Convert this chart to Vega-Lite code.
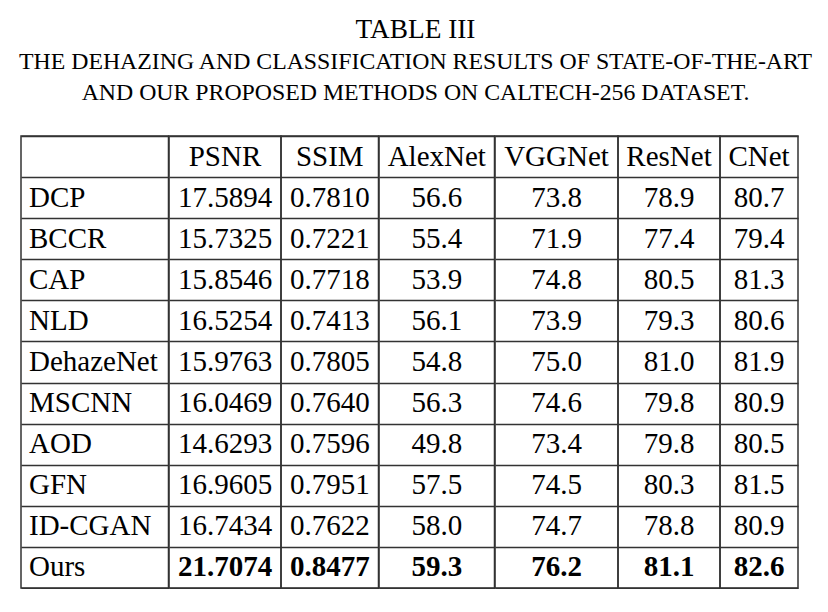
{
  "$schema": "https://vega.github.io/schema/vega-lite/v6.json",
  "background": "white",
  "padding": {"left": 18, "top": 15, "right": 0, "bottom": 0},
  "bounds": "flush",
  "title": {
    "text": "TABLE III",
    "subtitle": ["THE DEHAZING AND CLASSIFICATION RESULTS OF STATE-OF-THE-ART", "AND OUR PROPOSED METHODS ON CALTECH-256 DATASET."],
    "font": "Liberation Serif", "fontSize": 27.3, "fontWeight": "normal", "color": "black",
    "subtitleFont": "Liberation Serif", "subtitleFontSize": 23.8, "subtitleColor": "black",
    "subtitlePadding": 7, "subtitleLineHeight": 31.5,
    "anchor": "middle", "offset": 30, "dx": 6
  },
  "datasets": {
    "results": [
      {"method": "DCP", "PSNR": "17.5894", "SSIM": "0.7810", "AlexNet": "56.6", "VGGNet": "73.8", "ResNet": "78.9", "CNet": "80.7"},
      {"method": "BCCR", "PSNR": "15.7325", "SSIM": "0.7221", "AlexNet": "55.4", "VGGNet": "71.9", "ResNet": "77.4", "CNet": "79.4"},
      {"method": "CAP", "PSNR": "15.8546", "SSIM": "0.7718", "AlexNet": "53.9", "VGGNet": "74.8", "ResNet": "80.5", "CNet": "81.3"},
      {"method": "NLD", "PSNR": "16.5254", "SSIM": "0.7413", "AlexNet": "56.1", "VGGNet": "73.9", "ResNet": "79.3", "CNet": "80.6"},
      {"method": "DehazeNet", "PSNR": "15.9763", "SSIM": "0.7805", "AlexNet": "54.8", "VGGNet": "75.0", "ResNet": "81.0", "CNet": "81.9"},
      {"method": "MSCNN", "PSNR": "16.0469", "SSIM": "0.7640", "AlexNet": "56.3", "VGGNet": "74.6", "ResNet": "79.8", "CNet": "80.9"},
      {"method": "AOD", "PSNR": "14.6293", "SSIM": "0.7596", "AlexNet": "49.8", "VGGNet": "73.4", "ResNet": "79.8", "CNet": "80.5"},
      {"method": "GFN", "PSNR": "16.9605", "SSIM": "0.7951", "AlexNet": "57.5", "VGGNet": "74.5", "ResNet": "80.3", "CNet": "81.5"},
      {"method": "ID-CGAN", "PSNR": "16.7434", "SSIM": "0.7622", "AlexNet": "58.0", "VGGNet": "74.7", "ResNet": "78.8", "CNet": "80.9"},
      {"method": "Ours", "PSNR": "21.7074", "SSIM": "0.8477", "AlexNet": "59.3", "VGGNet": "76.2", "ResNet": "81.1", "CNet": "82.6"}
    ]
  },
  "spacing": 0,
  "hconcat": [
    {
      "width": 147.5, "height": 452,
      "data": {"name": "results"},
      "encoding": {"y": {"field": "method", "type": "nominal", "scale": {"domain": ["header", "DCP", "BCCR", "CAP", "NLD", "DehazeNet", "MSCNN", "AOD", "GFN", "ID-CGAN", "Ours"], "paddingInner": 0, "paddingOuter": 0}, "axis": {"tickBand": "extent", "grid": true, "labels": false, "ticks": false, "domain": false, "title": null}}},
      "layer": [
        {"mark": {"type": "text", "font": "Liberation Serif", "fontSize": 29, "align": "left", "baseline": "middle", "dx": 8, "color": "black"},
         "encoding": {"x": {"value": 0}, "text": {"field": "method"}}}
      ]
    },
    {
      "width": 112, "height": 452,
      "data": {"name": "results"},
      "encoding": {"y": {"field": "method", "type": "nominal", "scale": {"domain": ["header", "DCP", "BCCR", "CAP", "NLD", "DehazeNet", "MSCNN", "AOD", "GFN", "ID-CGAN", "Ours"], "paddingInner": 0, "paddingOuter": 0}, "axis": {"tickBand": "extent", "grid": true, "labels": false, "ticks": false, "domain": false, "title": null}}},
      "layer": [
        {"transform": [{"filter": "datum.method !== 'Ours'"}], "mark": {"type": "text", "font": "Liberation Serif", "fontSize": 29, "baseline": "middle", "color": "black"}, "encoding": {"text": {"field": "PSNR"}}},
        {"transform": [{"filter": "datum.method === 'Ours'"}], "mark": {"type": "text", "font": "Liberation Serif", "fontSize": 29, "fontWeight": "bold", "baseline": "middle", "color": "black"}, "encoding": {"text": {"field": "PSNR"}}},
        {"data": {"values": [{"label": "PSNR"}]}, "mark": {"type": "text", "font": "Liberation Serif", "fontSize": 29, "baseline": "middle", "color": "black"}, "encoding": {"y": {"datum": "header"}, "text": {"field": "label"}}}
      ]
    },
    {
      "width": 97.5, "height": 452,
      "data": {"name": "results"},
      "encoding": {"y": {"field": "method", "type": "nominal", "scale": {"domain": ["header", "DCP", "BCCR", "CAP", "NLD", "DehazeNet", "MSCNN", "AOD", "GFN", "ID-CGAN", "Ours"], "paddingInner": 0, "paddingOuter": 0}, "axis": {"tickBand": "extent", "grid": true, "labels": false, "ticks": false, "domain": false, "title": null}}},
      "layer": [
        {"transform": [{"filter": "datum.method !== 'Ours'"}], "mark": {"type": "text", "font": "Liberation Serif", "fontSize": 29, "baseline": "middle", "color": "black"}, "encoding": {"text": {"field": "SSIM"}}},
        {"transform": [{"filter": "datum.method === 'Ours'"}], "mark": {"type": "text", "font": "Liberation Serif", "fontSize": 29, "fontWeight": "bold", "baseline": "middle", "color": "black"}, "encoding": {"text": {"field": "SSIM"}}},
        {"data": {"values": [{"label": "SSIM"}]}, "mark": {"type": "text", "font": "Liberation Serif", "fontSize": 29, "baseline": "middle", "color": "black"}, "encoding": {"y": {"datum": "header"}, "text": {"field": "label"}}}
      ]
    },
    {
      "width": 115.5, "height": 452,
      "data": {"name": "results"},
      "encoding": {"y": {"field": "method", "type": "nominal", "scale": {"domain": ["header", "DCP", "BCCR", "CAP", "NLD", "DehazeNet", "MSCNN", "AOD", "GFN", "ID-CGAN", "Ours"], "paddingInner": 0, "paddingOuter": 0}, "axis": {"tickBand": "extent", "grid": true, "labels": false, "ticks": false, "domain": false, "title": null}}},
      "layer": [
        {"transform": [{"filter": "datum.method !== 'Ours'"}], "mark": {"type": "text", "font": "Liberation Serif", "fontSize": 29, "baseline": "middle", "color": "black"}, "encoding": {"text": {"field": "AlexNet"}}},
        {"transform": [{"filter": "datum.method === 'Ours'"}], "mark": {"type": "text", "font": "Liberation Serif", "fontSize": 29, "fontWeight": "bold", "baseline": "middle", "color": "black"}, "encoding": {"text": {"field": "AlexNet"}}},
        {"data": {"values": [{"label": "AlexNet"}]}, "mark": {"type": "text", "font": "Liberation Serif", "fontSize": 29, "baseline": "middle", "color": "black"}, "encoding": {"y": {"datum": "header"}, "text": {"field": "label"}}}
      ]
    },
    {
      "width": 123, "height": 452,
      "data": {"name": "results"},
      "encoding": {"y": {"field": "method", "type": "nominal", "scale": {"domain": ["header", "DCP", "BCCR", "CAP", "NLD", "DehazeNet", "MSCNN", "AOD", "GFN", "ID-CGAN", "Ours"], "paddingInner": 0, "paddingOuter": 0}, "axis": {"tickBand": "extent", "grid": true, "labels": false, "ticks": false, "domain": false, "title": null}}},
      "layer": [
        {"transform": [{"filter": "datum.method !== 'Ours'"}], "mark": {"type": "text", "font": "Liberation Serif", "fontSize": 29, "baseline": "middle", "color": "black"}, "encoding": {"text": {"field": "VGGNet"}}},
        {"transform": [{"filter": "datum.method === 'Ours'"}], "mark": {"type": "text", "font": "Liberation Serif", "fontSize": 29, "fontWeight": "bold", "baseline": "middle", "color": "black"}, "encoding": {"text": {"field": "VGGNet"}}},
        {"data": {"values": [{"label": "VGGNet"}]}, "mark": {"type": "text", "font": "Liberation Serif", "fontSize": 29, "baseline": "middle", "color": "black"}, "encoding": {"y": {"datum": "header"}, "text": {"field": "label"}}}
      ]
    },
    {
      "width": 102, "height": 452,
      "data": {"name": "results"},
      "encoding": {"y": {"field": "method", "type": "nominal", "scale": {"domain": ["header", "DCP", "BCCR", "CAP", "NLD", "DehazeNet", "MSCNN", "AOD", "GFN", "ID-CGAN", "Ours"], "paddingInner": 0, "paddingOuter": 0}, "axis": {"tickBand": "extent", "grid": true, "labels": false, "ticks": false, "domain": false, "title": null}}},
      "layer": [
        {"transform": [{"filter": "datum.method !== 'Ours'"}], "mark": {"type": "text", "font": "Liberation Serif", "fontSize": 29, "baseline": "middle", "color": "black"}, "encoding": {"text": {"field": "ResNet"}}},
        {"transform": [{"filter": "datum.method === 'Ours'"}], "mark": {"type": "text", "font": "Liberation Serif", "fontSize": 29, "fontWeight": "bold", "baseline": "middle", "color": "black"}, "encoding": {"text": {"field": "ResNet"}}},
        {"data": {"values": [{"label": "ResNet"}]}, "mark": {"type": "text", "font": "Liberation Serif", "fontSize": 29, "baseline": "middle", "color": "black"}, "encoding": {"y": {"datum": "header"}, "text": {"field": "label"}}}
      ]
    },
    {
      "width": 78, "height": 452,
      "data": {"name": "results"},
      "encoding": {"y": {"field": "method", "type": "nominal", "scale": {"domain": ["header", "DCP", "BCCR", "CAP", "NLD", "DehazeNet", "MSCNN", "AOD", "GFN", "ID-CGAN", "Ours"], "paddingInner": 0, "paddingOuter": 0}, "axis": {"tickBand": "extent", "grid": true, "labels": false, "ticks": false, "domain": false, "title": null}}},
      "layer": [
        {"transform": [{"filter": "datum.method !== 'Ours'"}], "mark": {"type": "text", "font": "Liberation Serif", "fontSize": 29, "baseline": "middle", "color": "black"}, "encoding": {"text": {"field": "CNet"}}},
        {"transform": [{"filter": "datum.method === 'Ours'"}], "mark": {"type": "text", "font": "Liberation Serif", "fontSize": 29, "fontWeight": "bold", "baseline": "middle", "color": "black"}, "encoding": {"text": {"field": "CNet"}}},
        {"data": {"values": [{"label": "CNet"}]}, "mark": {"type": "text", "font": "Liberation Serif", "fontSize": 29, "baseline": "middle", "color": "black"}, "encoding": {"y": {"datum": "header"}, "text": {"field": "label"}}}
      ]
    }
  ],
  "config": {
    "view": {"stroke": "#333", "strokeWidth": 1.5},
    "axis": {
      "gridColor": "#333", "gridWidth": 1.5, "gridOpacity": 1, "minExtent": 0, "maxExtent": 0, "labelPadding": 0, "offset": 0
    }
  }
}
